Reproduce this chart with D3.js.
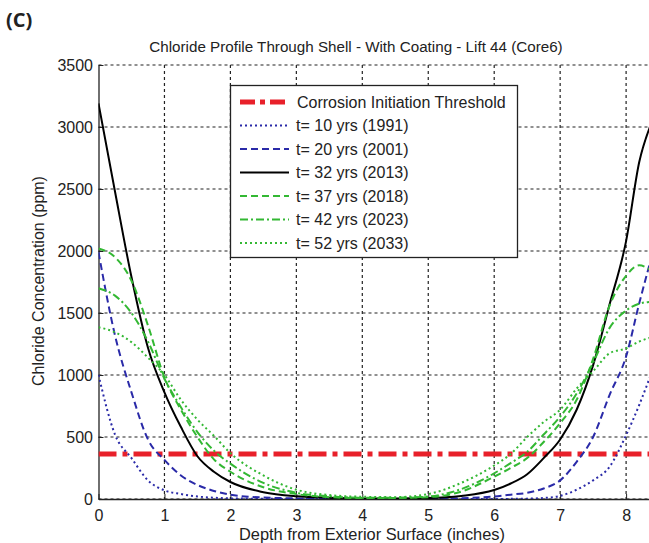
<!DOCTYPE html>
<html>
<head>
<meta charset="utf-8">
<title>Chloride Profile</title>
<script src="https://d3js.org/d3.v7.min.js"></script>
<style>
  body { margin: 0; background: #fff; }
  text { font-family: "Liberation Sans", Arial, sans-serif; fill: #222; }
</style>
</head>
<body>
<script>
// depth from exterior surface (inches)
const depth = [0, 0.25, 0.5, 0.75, 1, 1.25, 1.5, 1.75, 2, 2.5, 3, 3.5, 4, 4.5, 5, 5.5,
               6, 6.25, 6.5, 6.75, 7, 7.25, 7.5, 7.75, 8, 8.2, 8.36];

// chloride concentration (ppm) per series
const t10 = [1000, 520, 330, 150, 70, 40, 20, 10, 5, 2, 0, 0, 0, 0, 0, 0,
             0, 1, 3, 8, 25, 75, 150, 260, 515, 760, 980];
const t20 = [1990, 1320, 860, 480, 315, 190, 113, 65, 35, 12, 5, 2, 0, 0, 2, 6,
             20, 35, 50, 85, 150, 300, 500, 840, 1150, 1580, 1900];
const t32 = [3190, 2480, 1790, 1220, 860, 580, 345, 220, 137, 55, 22, 10, 5, 5, 8, 25,
             72, 125, 200, 330, 480, 720, 1080, 1570, 2080, 2720, 3000];
const t37 = [2020, 1950, 1760, 1400, 980, 720, 500, 320, 220, 95, 40, 15, 7, 8, 15, 60,
             180, 250, 330, 460, 612, 800, 1130, 1560, 1800, 1885, 1850];
const t42 = [1700, 1640, 1500, 1270, 970, 740, 540, 390, 285, 130, 50, 22, 10, 10, 20, 80,
             207, 290, 380, 520, 664, 850, 1100, 1380, 1520, 1575, 1590];
const t52 = [1385, 1345, 1265, 1140, 1000, 800, 640, 510, 370, 190, 75, 32, 18, 15, 40, 130,
             270, 363, 500, 620, 720, 890, 1030, 1175, 1215, 1270, 1300];

const threshold = 363;

const labels = ["t= 10 yrs (1991)", "t= 20 yrs (2001)", "t= 32 yrs (2013)",
                "t= 37 yrs (2018)", "t= 42 yrs (2023)", "t= 52 yrs (2033)"];
const xTicks = [0, 1, 2, 3, 4, 5, 6, 7, 8];
const yTicks = [0, 500, 1000, 1500, 2000, 2500, 3000, 3500];

const blue = "#2a2aa8", green = "#33b833";
const series = [
  { vals: t10, color: blue,  dash: "2,3" },
  { vals: t20, color: blue,  dash: "7,4" },
  { vals: t32, color: "#000", dash: null },
  { vals: t37, color: green, dash: "7,4" },
  { vals: t42, color: green, dash: "8,3,2,3" },
  { vals: t52, color: green, dash: "2,3" }
];

const W = 649, H = 543;
const pLeft = 98.5, pTop = 65, pBottom = 499;
const x = d3.scaleLinear().domain([0, 8.4]).range([pLeft, pLeft + 8.4 * 65.95]);
const y = d3.scaleLinear().domain([0, 3500]).range([pBottom, pTop]);

const svg = d3.select("body").append("svg")
  .attr("width", W).attr("height", H);

svg.append("defs").append("clipPath").attr("id", "clip")
  .append("rect").attr("x", pLeft).attr("y", pTop)
  .attr("width", x(8.4) - pLeft).attr("height", pBottom - pTop);

// grid
const grid = svg.append("g").attr("stroke", "#222").attr("stroke-width", 1.2)
  .attr("stroke-dasharray", "3,3");
grid.selectAll(".gy").data(yTicks).join("line")
  .attr("x1", pLeft).attr("x2", W)
  .attr("y1", d => y(d)).attr("y2", d => y(d));
grid.selectAll(".gx").data(xTicks.slice(1)).join("line")
  .attr("x1", d => x(d)).attr("x2", d => x(d))
  .attr("y1", pTop).attr("y2", pBottom);

// axes
const yAxis = d3.axisLeft(y).tickValues(yTicks).tickFormat(d3.format("d"))
  .tickSizeInner(-5).tickSizeOuter(0).tickPadding(5.5);
const xAxis = d3.axisBottom(x).tickValues(xTicks).tickFormat(d3.format("d"))
  .tickSizeInner(-5).tickSizeOuter(0).tickPadding(11);
const gy = svg.append("g").attr("transform", `translate(${pLeft},0)`).call(yAxis);
const gx = svg.append("g").attr("transform", `translate(0,${pBottom})`).call(xAxis);
[gy, gx].forEach(g => {
  g.select(".domain").attr("stroke", "#222").attr("stroke-width", 1.3);
  g.selectAll(".tick line").attr("stroke", "#222");
  g.selectAll("text").attr("font-size", 16).attr("fill", "#222")
    .style("font-family", "'Liberation Sans', Arial, sans-serif");
});

// curves
const plot = svg.append("g").attr("clip-path", "url(#clip)");
const line = d3.line().x((d, i) => x(depth[i])).y(d => y(d)).curve(d3.curveMonotoneX);

plot.append("line")
  .attr("x1", pLeft).attr("x2", W)
  .attr("y1", y(threshold)).attr("y2", y(threshold))
  .attr("stroke", "#e8202a").attr("stroke-width", 5)
  .attr("stroke-dasharray", "18,6,5,6");

series.forEach(s => {
  plot.append("path").datum(s.vals)
    .attr("d", line)
    .attr("fill", "none")
    .attr("stroke", s.color)
    .attr("stroke-width", 2)
    .attr("stroke-dasharray", s.dash);
});

// legend
const lg = svg.append("g");
lg.append("rect").attr("x", 230.5).attr("y", 85.5).attr("width", 287).attr("height", 172)
  .attr("fill", "#fff").attr("stroke", "#222").attr("stroke-width", 1.3);
const rowY = i => 102 + i * 23.5;
lg.append("line").attr("x1", 240).attr("x2", 286).attr("y1", rowY(0)).attr("y2", rowY(0))
  .attr("stroke", "#e8202a").attr("stroke-width", 5).attr("stroke-dasharray", "15,5,5,5");
lg.append("text").attr("x", 297).attr("y", rowY(0) + 5.5).attr("font-size", 16)
  .text("Corrosion Initiation Threshold");
series.forEach((s, i) => {
  lg.append("line").attr("x1", 240).attr("x2", 289).attr("y1", rowY(i + 1)).attr("y2", rowY(i + 1))
    .attr("stroke", s.color).attr("stroke-width", 2).attr("stroke-dasharray", s.dash);
  lg.append("text").attr("x", 296).attr("y", rowY(i + 1) + 5.5).attr("font-size", 16)
    .text(labels[i]);
});

// titles
svg.append("text").attr("x", 356).attr("y", 52).attr("text-anchor", "middle")
  .attr("font-size", 15.2)
  .text("Chloride Profile Through Shell - With Coating - Lift 44 (Core6)");
svg.append("text").attr("x", 372).attr("y", 540).attr("text-anchor", "middle")
  .attr("font-size", 16.4)
  .text("Depth from Exterior Surface (inches)");
svg.append("text").attr("transform", "translate(44,281) rotate(-90)")
  .attr("text-anchor", "middle").attr("font-size", 16)
  .text("Chloride Concentration (ppm)");
svg.append("text").attr("x", 6).attr("y", 27).attr("font-size", 20)
  .attr("font-weight", "bold").style("font-family", "'Open Sans', sans-serif")
  .text("(C)");
</script>
</body>
</html>
